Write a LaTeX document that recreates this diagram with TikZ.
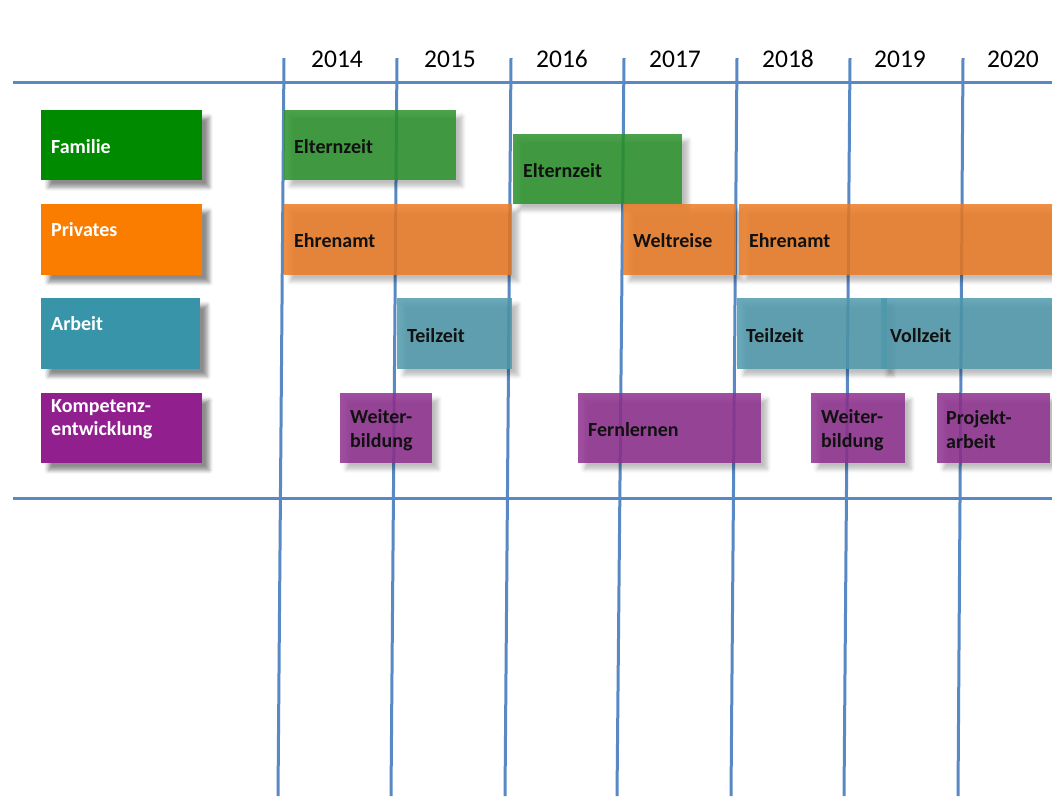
\documentclass[tikz,border=0pt]{standalone}
\usepackage{fontspec}
\setmainfont{Carlito}
\usetikzlibrary{shadows.blur}
\definecolor{gridblue}{RGB}{88,137,196}
\definecolor{famc}{RGB}{0,138,0}
\definecolor{privc}{RGB}{250,125,0}
\definecolor{arbc}{RGB}{56,148,168}
\definecolor{kompc}{RGB}{145,32,142}
\definecolor{famb}{RGB}{42,146,42}
\definecolor{privb}{RGB}{235,123,36}
\definecolor{arbb}{RGB}{78,153,172}
\definecolor{kompb}{RGB}{143,48,143}
\definecolor{txt}{RGB}{17,17,17}
\begin{document}
\begin{tikzpicture}[x=1pt,y=-1pt,
  gridline/.style={draw=gridblue, line width=3pt},
  catbox/.style={draw=none, anchor=north west, inner sep=0pt,
    blur shadow={shadow xshift=7pt, shadow yshift=-7pt, shadow blur radius=4pt, shadow opacity=45}},
  barbox/.style={draw=none, anchor=north west, inner sep=0pt, fill opacity=0.85,
    blur shadow={shadow xshift=6pt, shadow yshift=-6pt, shadow blur radius=4pt, shadow opacity=30}},
  cattext/.style={anchor=west, inner sep=0pt, text=white, font=\fontsize{20}{23}\selectfont\bfseries, align=left},
  bartext/.style={anchor=west, inner sep=0pt, text=txt, font=\fontsize{20}{24}\selectfont\bfseries, align=left},
  yeartext/.style={anchor=base, inner sep=0pt, font=\fontsize{25.5}{28}\selectfont, text=black}
]
\useasboundingbox (0,0) rectangle (1052,796);
% grid
\coordinate (hl1) at (13,82); \coordinate (hr1) at (1052,82);
\coordinate (hl2) at (13,498); \coordinate (hr2) at (1052,498);
\draw[gridline] (hl1) -- (hr1);
\draw[gridline] (hl2) -- (hr2);
\foreach \i/\t/\b in {1/284/278, 2/397/391, 3/511/505, 4/624/617, 5/737/731, 6/850/844, 7/963/958}{
  \coordinate (vt\i) at (\t,58);
  \coordinate (vb\i) at (\b,796);
  \draw[gridline] (vt\i) -- (vb\i);
}
% years
\node[yeartext] (y14) at (337,67) {2014};
\node[yeartext] (y15) at (450,67) {2015};
\node[yeartext] (y16) at (562,67) {2016};
\node[yeartext] (y17) at (675,67) {2017};
\node[yeartext] (y18) at (788,67) {2018};
\node[yeartext] (y19) at (900,67) {2019};
\node[yeartext] (y20) at (1013,67) {2020};
% categories
\node[catbox, fill=famc, minimum width=161pt, minimum height=70pt] (fam) at (41,110) {};
\node[cattext] (famt) at (51,147) {Familie};
\node[catbox, fill=privc, minimum width=161pt, minimum height=71pt] (priv) at (41,204) {};
\node[cattext] (privt) at (51,230) {Privates};
\node[catbox, fill=arbc, minimum width=159pt, minimum height=71pt] (arb) at (41,298) {};
\node[cattext] (arbt) at (51,324) {Arbeit};
\node[catbox, fill=kompc, minimum width=161pt, minimum height=70pt] (komp) at (41,393) {};
\node[cattext] (kompt) at (51,419) {Kompetenz-\\entwicklung};
% bars
\node[barbox, fill=famb, minimum width=172pt, minimum height=70pt] (el1) at (284,110) {};
\node[bartext] (el1t) at (294,147) {Elternzeit};
\node[barbox, fill=famb, minimum width=169pt, minimum height=70pt] (el2) at (513,134) {};
\node[bartext] (el2t) at (523,171) {Elternzeit};
\node[barbox, fill=privb, minimum width=228pt, minimum height=71pt] (eh1) at (284,204) {};
\node[bartext] (eh1t) at (294,241) {Ehrenamt};
\node[barbox, fill=privb, minimum width=113pt, minimum height=71pt] (wr) at (623,204) {};
\node[bartext] (wrt) at (633,241) {Weltreise};
\node[barbox, fill=privb, minimum width=313pt, minimum height=71pt] (eh2) at (739,204) {};
\node[bartext] (eh2t) at (749,241) {Ehrenamt};
\node[barbox, fill=arbb, minimum width=115pt, minimum height=71pt] (tz1) at (397,298) {};
\node[bartext] (tz1t) at (407,336) {Teilzeit};
\node[barbox, fill=arbb, minimum width=150pt, minimum height=71pt] (tz2) at (737,298) {};
\node[bartext] (tz2t) at (746,336) {Teilzeit};
\node[barbox, fill=arbb, minimum width=171pt, minimum height=71pt] (vz) at (881,298) {};
\node[bartext] (vzt) at (890,336) {Vollzeit};
\node[barbox, fill=kompb, minimum width=92pt, minimum height=70pt] (wb1) at (340,393) {};
\node[bartext] (wb1t) at (350,430) {Weiter-\\bildung};
\node[barbox, fill=kompb, minimum width=183pt, minimum height=70pt] (fl) at (578,393) {};
\node[bartext] (flt) at (588,430) {Fernlernen};
\node[barbox, fill=kompb, minimum width=94pt, minimum height=70pt] (wb2) at (811,393) {};
\node[bartext] (wb2t) at (821,430) {Weiter-\\bildung};
\node[barbox, fill=kompb, minimum width=113pt, minimum height=70pt] (pa) at (937,393) {};
\node[bartext] (pat) at (946,430) {Projekt-\\arbeit};
\end{tikzpicture}
\end{document}
